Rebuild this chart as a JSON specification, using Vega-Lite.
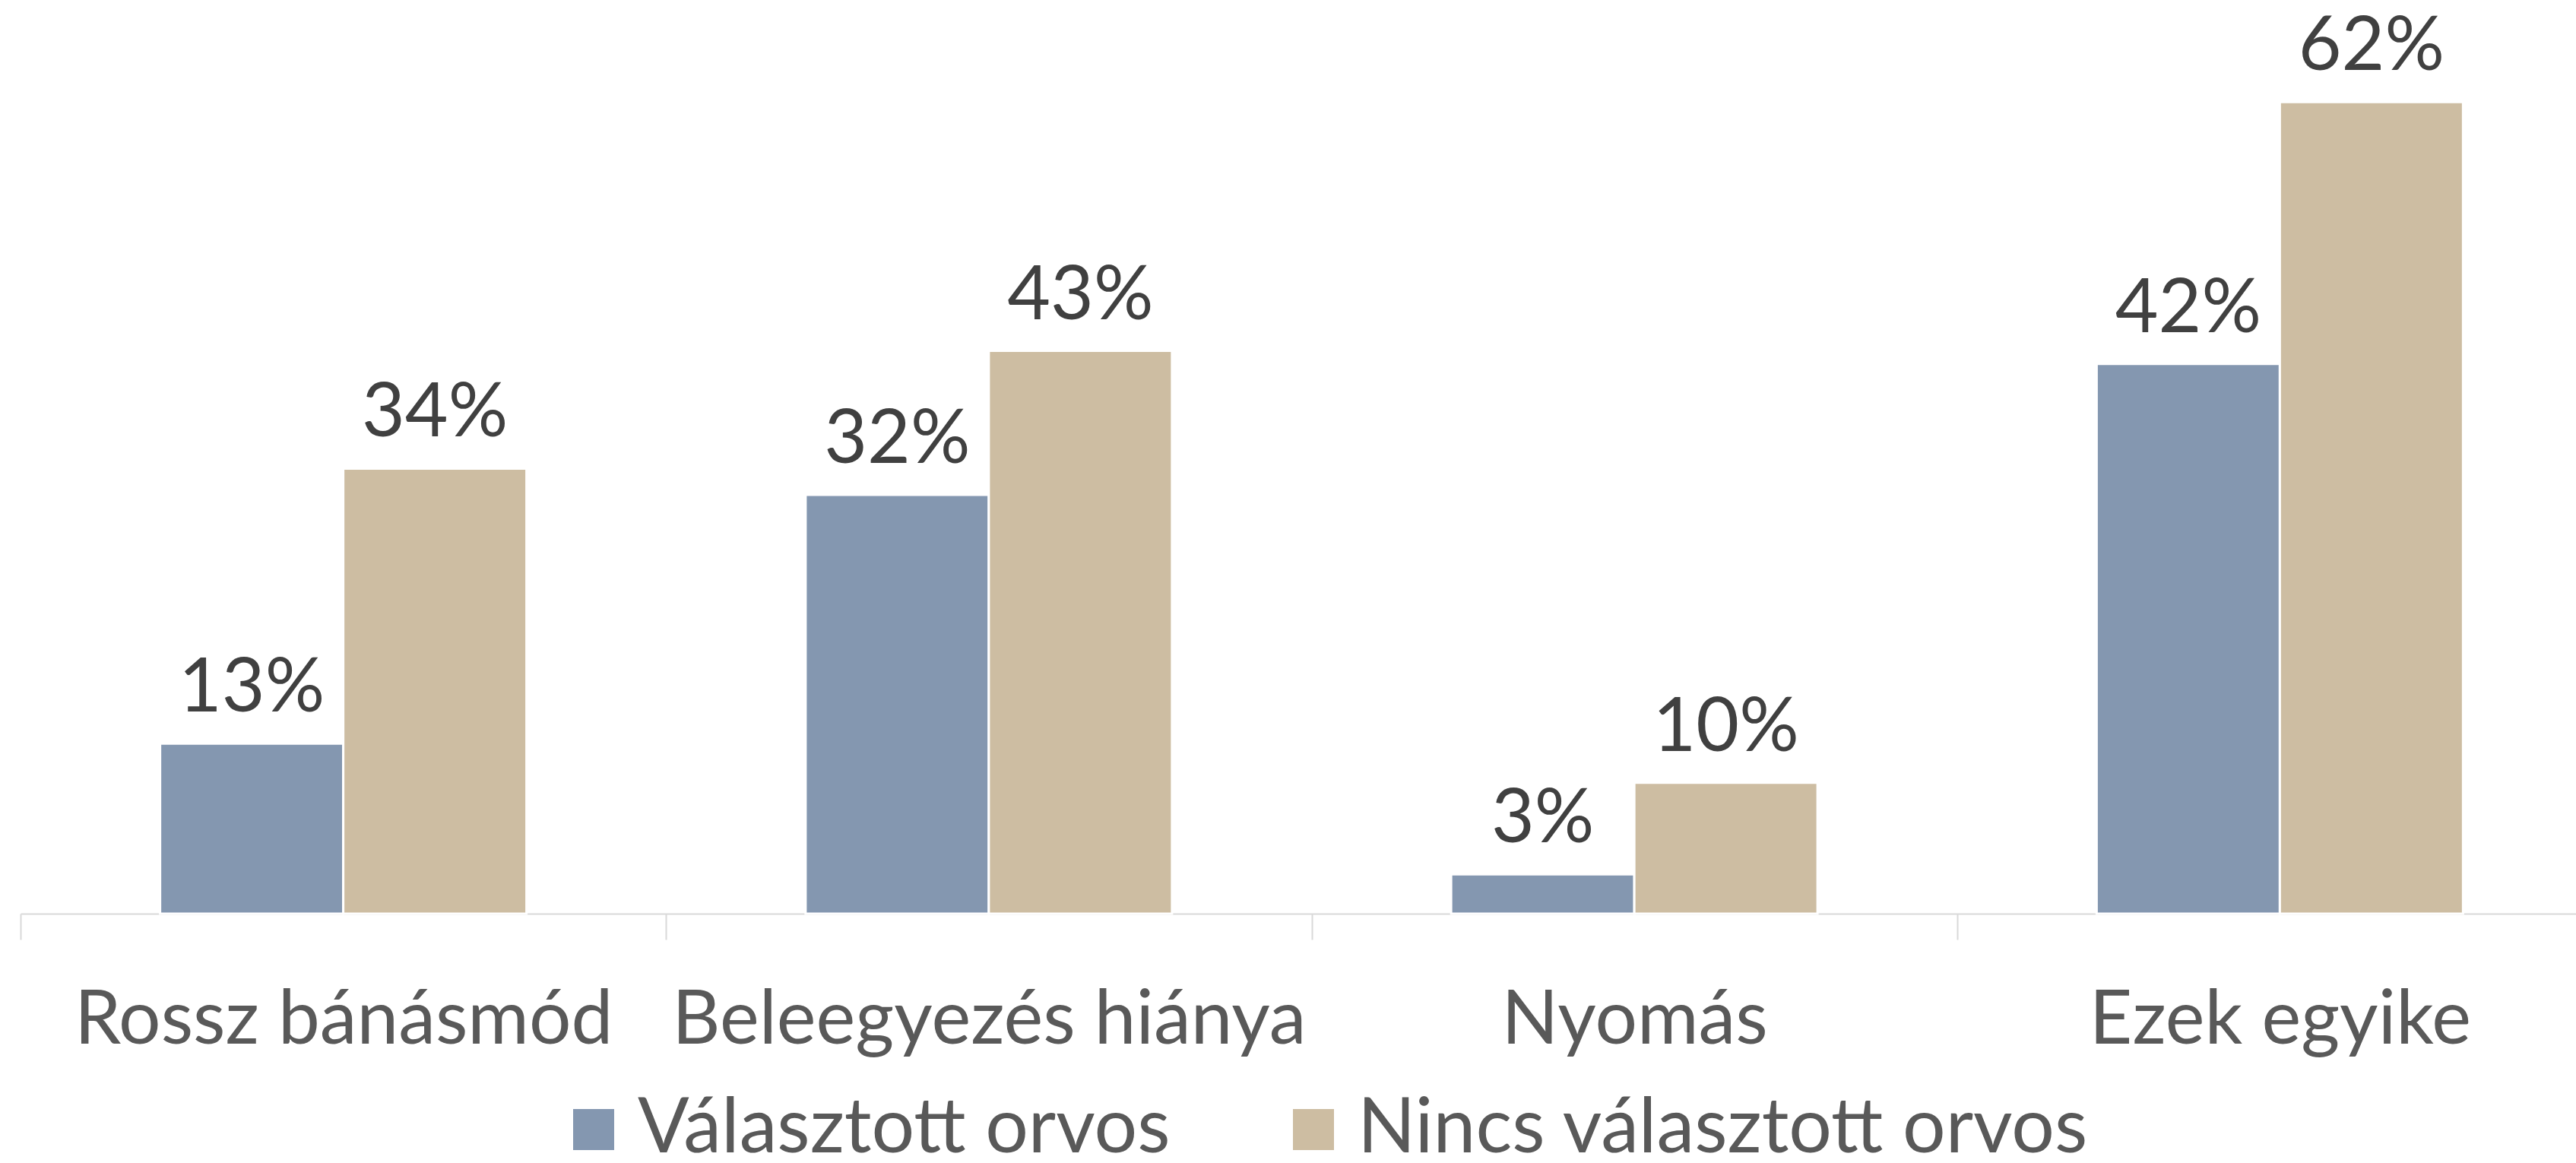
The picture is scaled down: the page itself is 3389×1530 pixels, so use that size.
{
  "$schema": "https://vega.github.io/schema/vega-lite/v6.json",
  "autosize": {"type": "none"},
  "padding": {"left": 27, "top": 0, "right": 0, "bottom": 328},
  "width": 3362,
  "height": 1202,
  "background": "white",
  "config": {"view": {"stroke": null}, "font": "Lato"},
  "data": {"values": [
    {"kat": "Rossz bánásmód", "csoport": "Választott orvos", "ertek": 0.13},
    {"kat": "Rossz bánásmód", "csoport": "Nincs választott orvos", "ertek": 0.34},
    {"kat": "Beleegyezés hiánya", "csoport": "Választott orvos", "ertek": 0.32},
    {"kat": "Beleegyezés hiánya", "csoport": "Nincs választott orvos", "ertek": 0.43},
    {"kat": "Nyomás", "csoport": "Választott orvos", "ertek": 0.03},
    {"kat": "Nyomás", "csoport": "Nincs választott orvos", "ertek": 0.10},
    {"kat": "Ezek egyike", "csoport": "Választott orvos", "ertek": 0.42},
    {"kat": "Ezek egyike", "csoport": "Nincs választott orvos", "ertek": 0.62}
  ]},
  "encoding": {
    "x": {
      "field": "kat", "type": "nominal", "sort": null,
      "scale": {"range": [0, 3397], "paddingInner": 0, "paddingOuter": 0},
      "axis": {
        "title": null, "labelAngle": 0, "labelFontSize": 98, "labelColor": "#595959",
        "labelFont": "Lato", "labelBaseline": "alphabetic", "labelPadding": 136,
        "tickBand": "extent", "tickSize": 34, "tickColor": "#D9D9D9", "tickWidth": 2,
        "domainColor": "#D9D9D9", "domainWidth": 2, "labelLimit": 0, "labelOverlap": false
      }
    },
    "xOffset": {"field": "csoport", "type": "nominal", "sort": ["Választott orvos", "Nincs választott orvos"], "scale": {"paddingInner": 0, "paddingOuter": 0.762}},
    "y": {"field": "ertek", "type": "quantitative", "scale": {"domain": [0, 0.698], "nice": false}, "axis": null}
  },
  "layer": [
    {
      "mark": {"type": "bar", "stroke": "white", "strokeWidth": 3},
      "encoding": {
        "color": {
          "field": "csoport", "type": "nominal",
          "sort": ["Választott orvos", "Nincs választott orvos"],
          "scale": {"domain": ["Választott orvos", "Nincs választott orvos"], "range": ["#8497B0", "#CDBDA2"]},
          "legend": {
            "title": null, "orient": "none", "legendX": 704, "legendY": 1436, "direction": "horizontal",
            "symbolType": "square", "symbolSize": 2916, "symbolStrokeWidth": 0, "padding": 0,
            "labelFontSize": 100, "labelColor": "#595959", "labelFont": "Lato",
            "labelOffset": 8, "columnPadding": 138, "labelLimit": 0
          }
        }
      }
    },
    {
      "mark": {"type": "text", "baseline": "alphabetic", "dy": -42, "fontSize": 98, "color": "#404040", "font": "Lato"},
      "encoding": {
        "text": {"field": "ertek", "type": "quantitative", "format": ".0%"}
      }
    }
  ]
}
